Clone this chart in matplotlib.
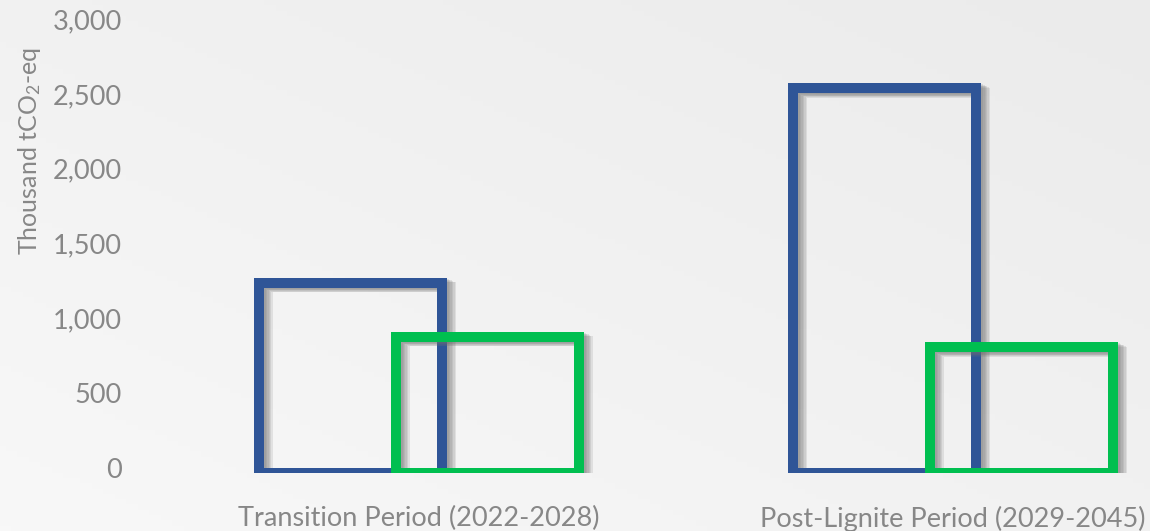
import numpy as np
import matplotlib.pyplot as plt
import matplotlib.patheffects as pe
import matplotlib.transforms as mtransforms
from matplotlib.colors import LinearSegmentedColormap

# values (thousand tCO2-eq)
categories = ["Transition Period (2022-2028)", "Post-Lignite Period (2029-2045)"]
series_blue = [1270, 2570]
series_green = [910, 840]
yticks = [0, 500, 1000, 1500, 2000, 2500, 3000]

plt.rcParams['font.family'] = ['Lato', 'DejaVu Sans']
plt.rcParams['font.weight'] = 'normal'
plt.rcParams['mathtext.default'] = 'regular'

txt_color = '#878787'

fig = plt.figure(figsize=(11.5, 5.31), dpi=100)

# light grey gradient background
bg = fig.add_axes([0, 0, 1, 1], zorder=-10)
xx, yy = np.meshgrid(np.linspace(0, 1, 200), np.linspace(0, 1, 100))
grad = 0.5 * xx + 0.5 * yy
bg.imshow(grad, cmap=LinearSegmentedColormap.from_list("bg", ["#f8f8f8", "#ebebeb"]),
          aspect='auto', origin='lower', extent=[0, 1, 0, 1])
bg.axis('off')

ax = fig.add_axes([0.1217, 0.1092, 0.8783, 0.8456])
ax.patch.set_alpha(0)

x = np.arange(len(categories))
width = 0.343
offset = 0.128

shadow = [pe.SimpleLineShadow(offset=(o, -o * 0.5), shadow_color='#707070', alpha=0.15)
          for o in (1.5, 2.5, 3.5, 4.5, 5.5, 6.5)] + [pe.Normal()]

ax.bar(x - offset, series_blue, width, fill=False, edgecolor='#2F5597', linewidth=7.2,
       path_effects=shadow, zorder=2)
ax.bar(x + offset, series_green, width, fill=False, edgecolor='#00BF50', linewidth=7.2,
       path_effects=shadow, zorder=3)

ax.set_xlim(-0.522, 1.369)
ax.set_ylim(0, 3000)
ax.set_xticks(x)
ax.set_xticklabels(categories)
ax.set_yticks(yticks)
ax.set_yticklabels([f"{v:,}" for v in yticks])
ax.tick_params(axis='both', length=0, colors=txt_color, labelsize=19.5)
ax.tick_params(axis='x', pad=24)
ax.tick_params(axis='y', pad=13)
for lab in ax.get_yticklabels():
    lab.set_transform(lab.get_transform() + mtransforms.ScaledTranslation(0, 5 / 100, fig.dpi_scale_trans))
for s in ax.spines.values():
    s.set_visible(False)

fig.text(0.026, 0.715, "Thousand tCO$_2$-eq", rotation=90, ha='center', va='center',
         color=txt_color, fontsize=18)

fig.savefig("out.png", dpi=100)
